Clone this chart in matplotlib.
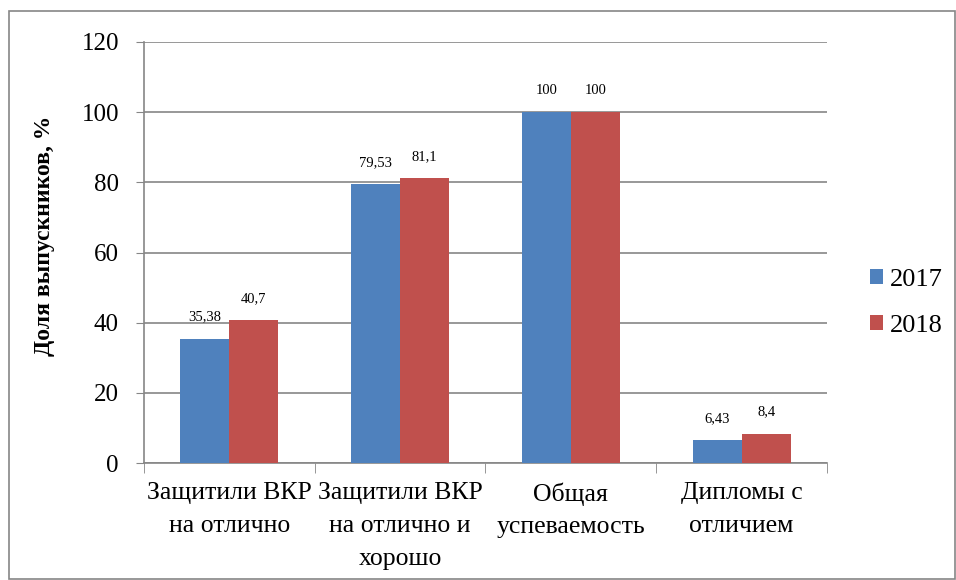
import matplotlib.pyplot as plt
import numpy as np
from matplotlib.patches import Rectangle

# Данные диаграммы
categories = [
    "Защитили ВКР\nна отлично",
    "Защитили ВКР\nна отлично и\nхорошо",
    "Общая\nуспеваемость",
    "Дипломы с\nотличием",
]
values_2017 = [35.38, 79.53, 100, 6.43]
values_2018 = [40.7, 81.1, 100, 8.4]
labels_2017 = ["35,38", "79,53", "100", "6,43"]
labels_2018 = ["40,7", "81,1", "100", "8,4"]
series_names = ["2017", "2018"]

plt.rcParams["font.family"] = ["Liberation Serif", "DejaVu Serif"]

fig = plt.figure(figsize=(9.56, 5.8), dpi=100)
ax = fig.add_axes([0.1506, 0.2017, 0.7144, 0.7259])

# Рамка вокруг всей диаграммы
fig.patches.append(Rectangle((9 / 956, 1 / 580), 946 / 956, 568 / 580,
                             transform=fig.transFigure, fill=False,
                             edgecolor="#868686", linewidth=1.2))

x = np.arange(len(categories))
w = 0.287
b1 = ax.bar(x - w / 2, values_2017, w, color="#4F81BD", label=series_names[0], zorder=3)
b2 = ax.bar(x + w / 2, values_2018, w, color="#C0504D", label=series_names[1], zorder=3)

for bars, labs in ((b1, labels_2017), (b2, labels_2018)):
    for bar, lab in zip(bars, labs):
        ax.annotate(lab, (bar.get_x() + bar.get_width() / 2, bar.get_height()),
                    xytext=(0, 11), textcoords="offset points",
                    ha="center", va="bottom", fontsize=10.5)

ax.set_xlim(-0.5, len(categories) - 0.5)
ax.set_ylim(0, 120)
ax.set_yticks(np.arange(0, 121, 20))
ax.tick_params(axis="y", labelsize=18, length=6, color="#868686", pad=12)

# Подписи категорий по центру, засечки на границах
ax.set_xticks(x)
ax.set_xticklabels(categories, fontsize=18.5, linespacing=1.62)
ax.tick_params(axis="x", length=0, pad=14)
ax.set_xticks(np.arange(-0.5, len(categories), 1), minor=True)
ax.tick_params(axis="x", which="minor", length=7, color="#868686")

ax.grid(axis="y", color="#868686", linewidth=1.2, zorder=0)
for side in ("top", "right"):
    ax.spines[side].set_visible(False)
for side in ("left", "bottom"):
    ax.spines[side].set_color("#868686")
    ax.spines[side].set_linewidth(1.2)

ax.set_ylabel("Доля выпускников, %", fontsize=17, fontweight="bold")
ax.yaxis.set_label_coords(-0.130, 0.539)

ax.legend(loc="center left", bbox_to_anchor=(1.063, 0.38), frameon=False,
          fontsize=19, handlelength=0.5, handleheight=0.5, handletextpad=0.25,
          labelspacing=0.9, borderaxespad=0, borderpad=0)

fig.savefig("out.png", dpi=100)
